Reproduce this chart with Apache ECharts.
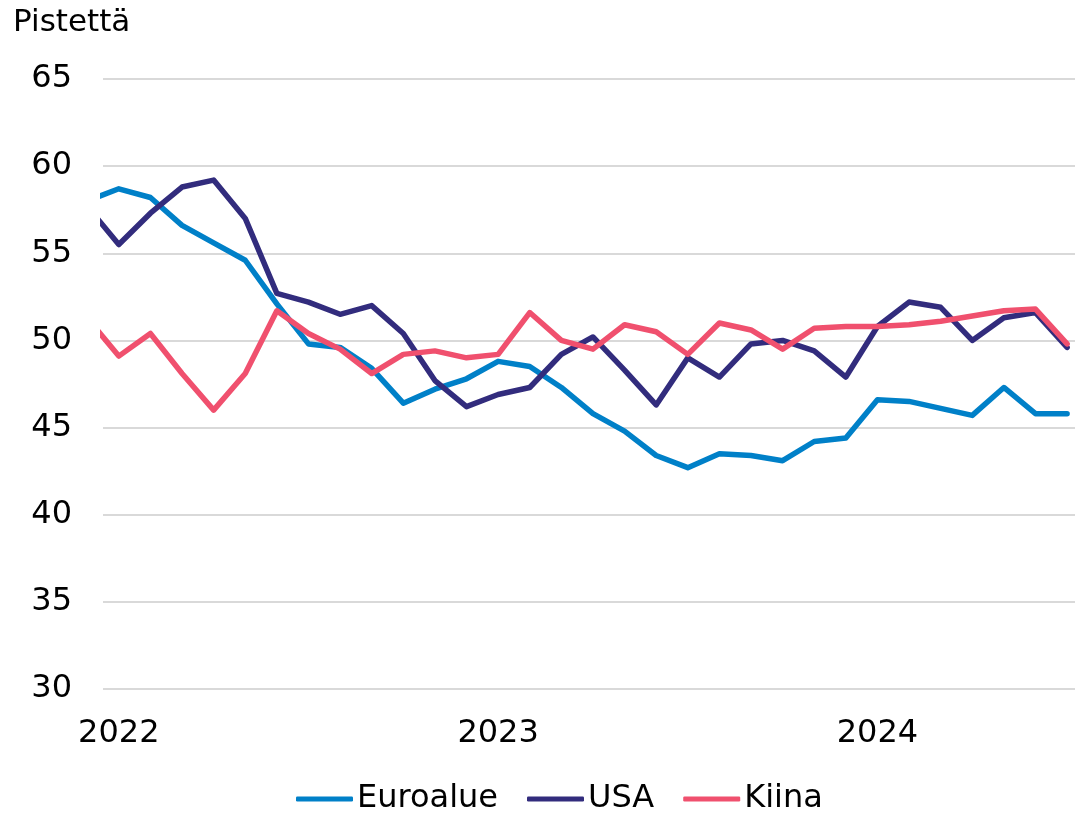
<!DOCTYPE html>
<html>
<head>
<meta charset="utf-8">
<script src="https://cdn.jsdelivr.net/npm/echarts@6/dist/echarts.min.js"></script>
<style>html,body{margin:0;padding:0;background:#fff}#c{width:1076px;height:813px}</style>
</head>
<body>
<div id="c"></div>
<script>
// Months from Dec 2021 (index -1) to Jul 2024 (index 30)
const months = ['2021-12',
 '2022-01','2022-02','2022-03','2022-04','2022-05','2022-06','2022-07','2022-08','2022-09','2022-10','2022-11','2022-12',
 '2023-01','2023-02','2023-03','2023-04','2023-05','2023-06','2023-07','2023-08','2023-09','2023-10','2023-11','2023-12',
 '2024-01','2024-02','2024-03','2024-04','2024-05','2024-06','2024-07'];
const euroalue = [58.0,
 58.7,58.2,56.6,55.6,54.6,52.1,49.8,49.6,48.4,46.4,47.2,47.8,
 48.8,48.5,47.3,45.8,44.8,43.4,42.7,43.5,43.4,43.1,44.2,44.4,
 46.6,46.5,46.1,45.7,47.3,45.8,45.8];
const usa = [57.7,
 55.5,57.3,58.8,59.2,57.0,52.7,52.2,51.5,52.0,50.4,47.7,46.2,
 46.9,47.3,49.2,50.2,48.3,46.3,49.0,47.9,49.8,50.0,49.4,47.9,
 50.8,52.2,51.9,50.0,51.3,51.6,49.6];
const kiina = [51.3,
 49.1,50.4,48.1,46.0,48.1,51.7,50.4,49.5,48.1,49.2,49.4,49.0,
 49.2,51.6,50.0,49.5,50.9,50.5,49.2,51.0,50.6,49.5,50.7,50.8,
 50.8,50.9,51.1,51.4,51.7,51.8,49.8];
const seriesNames = ['Euroalue','USA','Kiina'];
const yTicks = [30,35,40,45,50,55,60,65];
const yearLabels = {'2022-01':'2022','2023-01':'2023','2024-01':'2024'};

const colors = ['#0080C8','#322C7D','#F0506E'];
const toPts = arr => arr.map((v,i)=>[i-1, v]);
const yearIdx = months.map((m,i)=>yearLabels[m]?i-1:null).filter(v=>v!==null);

const chart = echarts.init(document.getElementById('c'));
const font = 'DejaVu Sans';
chart.setOption({
  animation:false,
  color: colors,
  title:{text:'Pistettä', left:8, top:2, textStyle:{fontFamily:font,fontSize:31,fontWeight:'normal',color:'#000'}},
  grid:{left:103,right:1,top:79,bottom:124,containLabel:false},
  legend:{
    top:783, left:296, padding:0,
    data: seriesNames.map(n=>({name:n, icon:'roundRect'})),
    itemWidth:57, itemHeight:5, itemGap:29,
    textStyle:{fontFamily:font,fontSize:32,color:'#000',padding:[0,0,0,-1]}
  },
  xAxis:{
    type:'value', min:-0.5, max:30.25,
    axisLine:{show:false}, axisTick:{show:false}, splitLine:{show:false},
    axisLabel:{
      customValues: yearIdx,
      formatter: v => yearLabels[months[v+1]] || '',
      fontFamily:font, fontSize:32, color:'#000', margin:29
    }
  },
  yAxis:{
    type:'value', min:yTicks[0], max:yTicks[yTicks.length-1], interval:5,
    axisLine:{show:false}, axisTick:{show:false},
    splitLine:{lineStyle:{color:'#d9d9d9',width:2}},
    axisLabel:{fontFamily:font, fontSize:32, color:'#000', margin:31}
  },
  series:[euroalue,usa,kiina].map((d,i)=>({
    name:seriesNames[i], type:'line', data:toPts(d), showSymbol:false, symbol:'none',
    clip:true,
    lineStyle:{width:5.5, color:colors[i], join:'round', cap:'round'},
    itemStyle:{color:colors[i]}
  }))
});
</script>
</body>
</html>
